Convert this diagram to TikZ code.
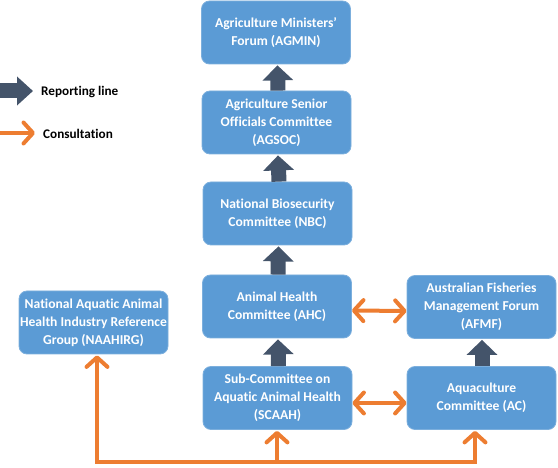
\documentclass[tikz,border=0pt]{standalone}
\usepackage{fontspec}
\setmainfont{Carlito}[Ligatures=CommonOff]
\usetikzlibrary{arrows.meta}
\definecolor{boxblue}{HTML}{5B9BD5}
\definecolor{darkarrow}{HTML}{44546A}
\definecolor{orangec}{HTML}{ED7D31}
\tikzset{
  box/.style={rectangle, rounded corners=8pt, fill=boxblue, draw=boxblue!80!white, line width=0.8pt,
    minimum width=149pt, minimum height=63pt, inner sep=0pt, align=center,
    text=white, font=\bfseries\fontsize{13.6pt}{17.8pt}\selectfont},
  report/.style={draw=darkarrow, line width=15pt, -{Triangle[width=30pt,length=15pt]}},
  consult/.style={draw=orangec, line width=4pt, -{Straight Barb[length=9.5pt,width=21pt,round]}},
  consultboth/.style={draw=orangec, line width=4pt, {Straight Barb[length=9.5pt,width=21pt,round]}-{Straight Barb[length=9.5pt,width=21pt,round]}},
  legendtext/.style={anchor=west, inner sep=0pt, font=\bfseries\fontsize{13.2pt}{15pt}\selectfont}
}
\begin{document}
\begin{tikzpicture}[x=1pt,y=-1pt]
\useasboundingbox (0,0) rectangle (558,468);
% boxes
\node[box] (agmin) at (276,32.5) {Agriculture Ministers’\\Forum (AGMIN)};
\node[box] (agsoc) at (276.5,122.5) {Agriculture Senior\\Officials Committee\\(AGSOC)};
\node[box] (nbc) at (277.5,213.5) {National Biosecurity\\Committee (NBC)};
\node[box] (ahc) at (277,306.5) {Animal Health\\Committee (AHC)};
\node[box] (scaah) at (277.5,398) {Sub-Committee on\\Aquatic Animal Health\\(SCAAH)};
\node[box] (afmf) at (481.5,307) {Australian Fisheries\\Management Forum\\(AFMF)};
\node[box] (ac) at (481.5,398) {Aquaculture\\Committee (AC)};
\node[box] (naahirg) at (93.5,322.5) {National Aquatic Animal\\Health Industry Reference\\Group (NAAHIRG)};
% reporting lines
\draw[report] ([xshift=1.5pt]agsoc.north) -- ([xshift=1.5pt,yshift=-1pt]agmin.south);
\draw[report] ([xshift=1.5pt]nbc.north) -- ([xshift=1.5pt,yshift=-1pt]agsoc.south);
\draw[report] ([xshift=1pt]ahc.north) -- ([xshift=1pt,yshift=-1pt]nbc.south);
\draw[report] ([xshift=1pt]scaah.north) -- ([xshift=1pt,yshift=-1pt]ahc.south);
\draw[report] ([xshift=0.5pt]ac.north) -- ([xshift=0.5pt,yshift=-1pt]afmf.south);
% consultation
\draw[consultboth] ([yshift=-4pt]ahc.east) -- ([yshift=-4pt]afmf.west);
\draw[consultboth] ([yshift=-5pt]scaah.east) -- ([yshift=-5pt]ac.west);
\coordinate (bl) at (97,462);
\coordinate (bm) at (277,462);
\coordinate (br) at (475,462);
\draw[draw=orangec, line width=4pt] ([xshift=-2pt]bl) -- ([xshift=2pt]br);
\draw[consult] ([yshift=2pt]bl) -- ([yshift=-1pt]bl |- naahirg.south);
\draw[consult] (bm) -- ([yshift=-1pt]bm |- scaah.south);
\draw[consult] ([yshift=2pt]br) -- ([yshift=-1pt]br |- ac.south);
% legend
\coordinate (l1a) at (0,91);
\coordinate (l1b) at (33,91);
\coordinate (l2a) at (0,133);
\coordinate (l2b) at (35,133);
\draw[draw=darkarrow, line width=15pt, -{Triangle[width=28pt,length=16pt]}] (l1a) -- (l1b);
\draw[consult] (l2a) -- (l2b);
\node[legendtext] (lrep) at (41,92) {Reporting line};
\node[legendtext] (lcon) at (43,134) {Consultation};
\end{tikzpicture}
\end{document}
